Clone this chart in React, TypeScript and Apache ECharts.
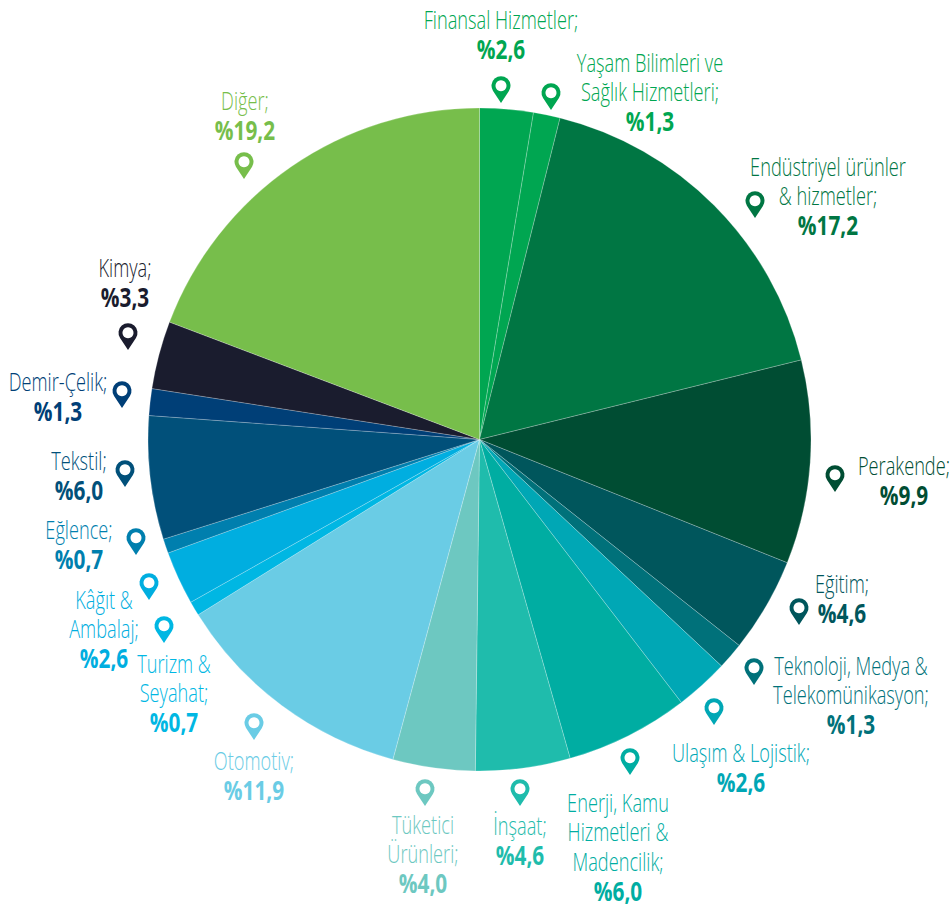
import React, { useEffect, useRef } from "react";
import * as echarts from "echarts";

const categories = [
  "Finansal Hizmetler;",
  "Yaşam Bilimleri ve\nSağlık Hizmetleri;",
  "Endüstriyel ürünler\n& hizmetler;",
  "Perakende;",
  "Eğitim;",
  "Teknoloji, Medya &\nTelekomünikasyon;",
  "Ulaşım & Lojistik;",
  "Enerji, Kamu\nHizmetleri &\nMadencilik;",
  "İnşaat;",
  "Tüketici\nÜrünleri;",
  "Otomotiv;",
  "Turizm &\nSeyahat;",
  "Kâğıt &\nAmbalaj;",
  "Eğlence;",
  "Tekstil;",
  "Demir-Çelik;",
  "Kimya;",
  "Diğer;",
];
const values = [2.6, 1.3, 17.2, 9.9, 4.6, 1.3, 2.6, 6.0, 4.6, 4.0, 11.9, 0.7, 2.6, 0.7, 6.0, 1.3, 3.3, 19.2];
const colors = [
  "#00A651", "#00A651", "#007643", "#004D33", "#00565C", "#00717A", "#00A7B5", "#00ADA2", "#1FBCAC",
  "#6DC8C1", "#6ACCE5", "#00B7E3", "#00AEE0", "#007FAE", "#01507A", "#003F77", "#1A1C2E", "#77BE4B",
];
// label centre x, first line centre y
const labelPos = [
  [501, 19], [650, 62], [828, 166], [904, 465], [842, 583], [851, 665], [741, 752], [618, 802], [520, 825],
  [423, 824], [254, 760], [174, 663], [104, 599], [79, 529], [79, 460], [58, 381], [125, 267], [245, 100],
];
// pin centre x, tip y
const pinPos = [
  [501, 103], [551, 110], [755, 218], [835, 492], [799, 625], [754, 685], [714, 725], [630, 775], [520, 806],
  [425, 806], [254, 740], [164, 643], [149, 600], [136, 555], [125, 487], [122, 408], [128, 350], [244, 179],
];

const LINE = 29.6;

echarts.graphic.registerShape(
  "mapPin",
  echarts.graphic.extendPath("M0 0 L-7.94 -12.08 A9.5 9.5 0 1 1 7.94 -12.08 Z", {})
);

export default function App() {
  const ref = useRef<HTMLDivElement>(null);
  useEffect(() => {
    const chart = echarts.init(ref.current!, null, { renderer: "svg" });
    const graphics: any[] = [];
    categories.forEach((cat, i) => {
      const [lx, ly] = labelPos[i];
      const [px, py] = pinPos[i];
      const lines = cat.split("\n");
      lines.forEach((line, j) => {
        graphics.push({
          type: "text",
          x: lx,
          y: ly + j * LINE,
          scaleX: 0.7,
          silent: true,
          style: {
            text: line,
            fill: colors[i],
            font: '300 26px "Open Sans"',
            textAlign: "center",
            textVerticalAlign: "middle",
          },
        });
      });
      graphics.push({
        type: "text",
        x: lx,
        y: ly + lines.length * LINE,
        scaleX: 0.8,
        silent: true,
        style: {
          text: "%" + values[i].toFixed(1).replace(".", ","),
          fill: colors[i],
          font: 'bold 26px "Open Sans"',
          textAlign: "center",
          textVerticalAlign: "middle",
        },
      });
      graphics.push({ type: "mapPin", x: px, y: py, silent: true, style: { fill: colors[i] } });
      graphics.push({
        type: "circle",
        silent: true,
        shape: { cx: px, cy: py - 17.3, r: 5.5 },
        style: { fill: "#fff" },
      });
    });
    chart.setOption({
      animation: false,
      backgroundColor: "#fff",
      graphic: { elements: graphics },
      series: [
        {
          type: "pie",
          center: [479.5, 439.5],
          radius: [0, 331.5],
          startAngle: 90,
          clockwise: true,
          silent: true,
          label: { show: false },
          labelLine: { show: false },
          itemStyle: { borderColor: "rgba(255,255,255,0.45)", borderWidth: 0.5 },
          data: categories.map((name, i) => ({
            name: name.replace(/\n/g, " "),
            value: values[i],
            itemStyle: { color: colors[i] },
          })),
        },
      ],
    });
    return () => chart.dispose();
  }, []);
  return <div ref={ref} style={{ position: "absolute", left: 0, top: 0, width: 950, height: 908 }} />;
}
